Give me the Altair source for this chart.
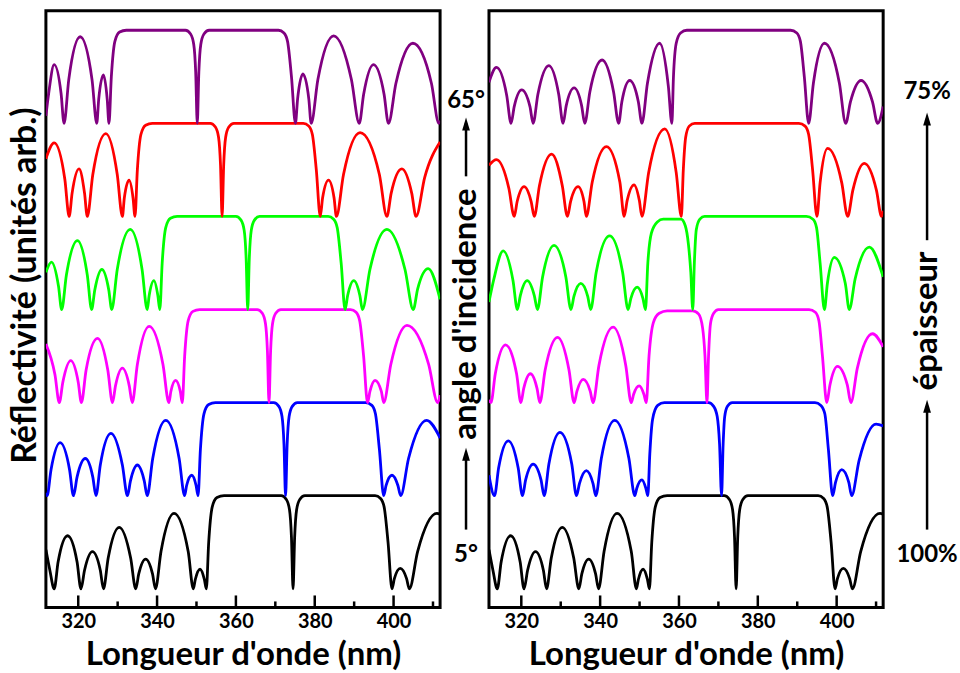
import altair as alt
import pandas as pd

# Axis ranges: wavelength (nm) and stacked reflectivity (each curve offset by 1)
X_DOMAIN = [311.8, 411.8]
Y_DOMAIN = [-0.2, 6.21]
MAJOR_TICKS = [320, 340, 360, 380, 400]
MINOR_TICKS = [330, 350, 370, 390, 410]

# Reflectivity spectra as (wavelength nm, R) pairs.
# Reference curve: 5 deg incidence, 100 % thickness (bottom curve of both panels)
ref_5deg_100 = [
    (311.8, 0.42), (312.8, 0.20), (313.9, 0), (314.9, 0.29), (317.3, 0.57), (319.7, 0.29),
    (320.7, 0), (321.6, 0.20), (323.6, 0.40), (325.6, 0.20), (326.4, 0), (327.6, 0.33),
    (330.4, 0.66), (333.3, 0.33), (334.6, 0), (335.35, 0.16), (337.1, 0.32), (338.85, 0.16),
    (339.6, 0), (341.0, 0.40), (344.3, 0.81), (347.9, 0.40), (349.2, 0), (349.7, 0.10),
    (350.9, 0.21), (352.0, 0.10), (352.5, 0), (353.1, 0.5), (354.0, 0.88), (355.2, 0.98),
    (357.0, 1.0), (371.5, 1.0), (372.8, 0.96), (373.6, 0.85), (374.1, 0.55), (374.5, 0),
    (374.9, 0.55), (375.4, 0.85), (376.2, 0.96), (377.5, 1.0), (395.3, 1.0), (396.7, 0.97),
    (397.6, 0.88), (398.6, 0.5), (399.6, 0), (400.2, 0.11), (401.7, 0.22), (403.3, 0.11),
    (404.0, 0), (406.1, 0.40), (411.0, 0.81), (411.8, 0.80),
]

# Increasing angle of incidence (left panel)
angle_2 = [
    (311.8, 0.03), (312.1, 0), (313.1, 0.28), (315.4, 0.57), (317.8, 0.28), (318.8, 0),
    (319.7, 0.20), (321.8, 0.40), (323.7, 0.20), (324.5, 0), (325.6, 0.33), (328.3, 0.67),
    (331.2, 0.33), (332.5, 0), (333.25, 0.16), (335.0, 0.33), (336.75, 0.16), (337.5, 0),
    (338.9, 0.40), (342.2, 0.81), (345.6, 0.40), (347.0, 0), (347.5, 0.11), (348.8, 0.22),
    (349.9, 0.11), (350.4, 0), (351.0, 0.5), (351.9, 0.88), (353.1, 0.98), (354.8, 1.0),
    (369.6, 1.0), (370.9, 0.96), (371.7, 0.85), (372.2, 0.55), (372.6, 0), (373.0, 0.55),
    (373.5, 0.85), (374.3, 0.96), (375.6, 1.0), (392.9, 1.0), (394.5, 0.97), (395.4, 0.88),
    (396.4, 0.5), (397.5, 0), (398.1, 0.11), (399.6, 0.22), (401.1, 0.11), (401.8, 0),
    (403.8, 0.40), (408.4, 0.81), (411.8, 0.62),
]
angle_3 = [
    (311.8, 0.63), (314.1, 0.30), (315.2, 0), (316.1, 0.22), (318.1, 0.45), (320.0, 0.22),
    (320.8, 0), (322.0, 0.35), (324.9, 0.69), (327.5, 0.35), (328.7, 0), (329.45, 0.18),
    (331.2, 0.37), (332.95, 0.18), (333.7, 0), (335.0, 0.41), (338.0, 0.82), (341.5, 0.41),
    (343.0, 0), (343.5, 0.12), (344.7, 0.24), (345.9, 0.12), (346.4, 0), (347.0, 0.5),
    (347.9, 0.88), (349.1, 0.98), (350.8, 1.0), (365.4, 1.0), (366.7, 0.96), (367.5, 0.85),
    (368.0, 0.55), (368.4, 0), (368.8, 0.55), (369.3, 0.85), (370.1, 0.96), (371.4, 1.0),
    (389.1, 1.0), (390.5, 0.97), (391.4, 0.88), (392.4, 0.5), (393.4, 0), (394.0, 0.12),
    (395.3, 0.24), (396.9, 0.12), (397.5, 0), (399.3, 0.41), (403.4, 0.83), (408.9, 0.41),
    (411.2, 0), (411.8, 0.08),
]
angle_4 = [
    (311.8, 0.40), (313.2, 0.51), (315.0, 0.25), (315.8, 0), (317.0, 0.37), (319.8, 0.74),
    (322.3, 0.37), (323.4, 0), (324.2, 0.21), (326.0, 0.43), (327.75, 0.21), (328.5, 0),
    (329.9, 0.43), (333.2, 0.86), (336.2, 0.43), (337.5, 0), (338.0, 0.15), (339.2, 0.31),
    (340.2, 0.15), (340.7, 0), (341.3, 0.5), (342.2, 0.88), (343.4, 0.98), (345.1, 1.0),
    (360.0, 1.0), (361.3, 0.96), (362.1, 0.85), (362.6, 0.55), (363.0, 0), (363.4, 0.55),
    (363.9, 0.85), (364.7, 0.96), (366.0, 1.0), (383.4, 1.0), (384.8, 0.97), (385.7, 0.88),
    (386.7, 0.5), (387.7, 0), (388.35, 0.15), (389.9, 0.31), (391.45, 0.15), (392.1, 0),
    (394.0, 0.43), (398.3, 0.86), (402.9, 0.43), (405.0, 0), (406.1, 0.22), (408.8, 0.44),
    (411.8, 0.11),
]
angle_5 = [
    (311.8, 0.62), (313.9, 0.79), (316.6, 0.40), (317.7, 0), (318.45, 0.25), (320.2, 0.51),
    (321.6, 0.25), (322.3, 0), (323.7, 0.45), (327.0, 0.89), (329.9, 0.45), (331.2, 0),
    (331.7, 0.20), (332.9, 0.39), (333.9, 0.20), (334.4, 0), (335.0, 0.5), (335.9, 0.88),
    (337.1, 0.98), (338.8, 1.0), (353.5, 1.0), (354.8, 0.96), (355.6, 0.85), (356.1, 0.55),
    (356.5, 0), (356.9, 0.55), (357.4, 0.85), (358.2, 0.96), (359.5, 1.0), (377.1, 1.0),
    (378.5, 0.97), (379.4, 0.88), (380.4, 0.5), (381.4, 0), (382.0, 0.20), (383.5, 0.39),
    (384.9, 0.20), (385.5, 0), (387.3, 0.45), (391.5, 0.90), (396.4, 0.45), (398.3, 0),
    (399.4, 0.25), (402.1, 0.51), (404.6, 0.25), (405.7, 0), (407.9, 0.42), (411.8, 0.80),
]
angle_65deg = [
    (311.8, 0.08), (312.5, 0.32), (313.9, 0.63), (315.65, 0.32), (316.4, 0), (317.6, 0.47),
    (320.5, 0.93), (323.5, 0.47), (324.7, 0), (325.2, 0.26), (326.4, 0.52), (327.35, 0.26),
    (327.8, 0), (328.4, 0.5), (329.3, 0.88), (330.5, 0.98), (332.2, 1.0), (347.2, 1.0),
    (348.5, 0.96), (349.3, 0.85), (349.8, 0.55), (350.2, 0), (350.6, 0.55), (351.1, 0.85),
    (351.9, 0.96), (353.2, 1.0), (370.8, 1.0), (372.2, 0.97), (373.1, 0.88), (374.1, 0.5),
    (375.1, 0), (375.65, 0.26), (377.0, 0.53), (378.5, 0.26), (379.1, 0), (380.8, 0.47),
    (384.8, 0.94), (389.3, 0.47), (391.3, 0), (392.4, 0.31), (394.9, 0.63), (397.6, 0.31),
    (398.7, 0), (400.6, 0.43), (404.9, 0.86), (409.6, 0.43), (411.5, 0), (411.8, 0.03),
]

# Decreasing defect-layer thickness (right panel)
thick_2 = [
    (311.8, 0.22), (313.2, 0), (314.25, 0.30), (316.7, 0.59), (319.2, 0.30), (320.3, 0),
    (321.1, 0.17), (323.0, 0.34), (325.0, 0.17), (325.8, 0), (327.0, 0.34), (329.8, 0.68),
    (332.8, 0.34), (334.0, 0), (334.75, 0.13), (336.5, 0.27), (338.2, 0.13), (338.9, 0),
    (340.3, 0.40), (343.7, 0.81), (347.3, 0.40), (348.8, 0), (349.3, 0.08), (350.6, 0.17),
    (351.6, 0.08), (352.1, 0), (352.6, 0.45), (353.3, 0.82), (354.6, 0.97), (356.3, 1.0),
    (367.5, 1.0), (368.8, 0.96), (369.7, 0.85), (370.3, 0.55), (370.8, 0), (371.2, 0.55),
    (371.6, 0.85), (372.3, 0.96), (373.5, 1.0), (394.5, 1.0), (396.0, 0.97), (397.0, 0.88),
    (397.9, 0.5), (399.0, 0), (399.7, 0.14), (401.3, 0.28), (403.1, 0.14), (403.8, 0),
    (405.7, 0.38), (410.0, 0.77), (411.8, 0.75),
]
thick_3 = [
    (311.8, 0.03), (312.3, 0), (313.4, 0.31), (316.0, 0.62), (318.8, 0.31), (319.9, 0),
    (320.6, 0.15), (322.3, 0.31), (324.0, 0.15), (324.7, 0), (326.05, 0.35), (329.2, 0.70),
    (332.1, 0.35), (333.4, 0), (334.1, 0.12), (335.7, 0.25), (337.5, 0.12), (338.2, 0),
    (339.7, 0.40), (343.3, 0.81), (346.5, 0.40), (347.9, 0), (348.5, 0.09), (349.9, 0.18),
    (351.1, 0.09), (351.7, 0), (352.4, 0.5), (353.5, 0.86), (355.0, 0.96), (357.0, 0.985),
    (363.5, 0.985), (365.0, 0.95), (366.0, 0.8), (366.6, 0.5), (367.1, 0), (367.5, 0.5),
    (368.0, 0.85), (368.8, 0.96), (370.0, 1.0), (393.0, 1.0), (394.6, 0.97), (395.5, 0.88),
    (396.4, 0.5), (397.5, 0), (398.3, 0.19), (400.2, 0.39), (402.7, 0.19), (403.6, 0),
    (405.25, 0.37), (409.1, 0.74), (411.8, 0.60),
]
thick_4 = [
    (311.8, 0.08), (313.0, 0.32), (315.4, 0.63), (317.9, 0.31), (319.0, 0), (319.75, 0.15),
    (321.5, 0.31), (323.3, 0.15), (324.1, 0), (325.4, 0.35), (328.3, 0.69), (331.3, 0.35),
    (332.6, 0), (333.35, 0.14), (335.1, 0.28), (336.85, 0.14), (337.6, 0), (339.0, 0.40),
    (342.4, 0.79), (345.7, 0.40), (347.1, 0), (347.8, 0.12), (349.4, 0.24), (350.85, 0.12),
    (351.5, 0), (352.1, 0.5), (353.0, 0.82), (354.5, 0.94), (356.0, 0.97), (360.5, 0.97),
    (361.6, 0.9), (362.4, 0.7), (363.0, 0.4), (363.5, 0), (363.9, 0.5), (364.4, 0.86),
    (365.3, 0.97), (366.5, 1.0), (392.3, 1.0), (394.0, 0.97), (394.9, 0.88), (395.8, 0.5),
    (396.9, 0), (397.65, 0.28), (399.4, 0.56), (402.2, 0.28), (403.2, 0), (404.7, 0.33),
    (408.3, 0.67), (411.8, 0.35),
]
thick_5 = [
    (311.8, 0.55), (313.7, 0.61), (316.85, 0.30), (318.2, 0), (318.95, 0.16), (320.7, 0.32),
    (322.5, 0.16), (323.3, 0), (324.6, 0.33), (327.7, 0.67), (330.4, 0.33), (331.7, 0),
    (332.5, 0.16), (334.4, 0.32), (335.9, 0.16), (336.5, 0), (338.0, 0.37), (341.6, 0.75),
    (345.0, 0.37), (346.1, 0), (346.85, 0.17), (348.6, 0.34), (349.95, 0.17), (350.6, 0),
    (352.3, 0.47), (356.4, 0.94), (359.3, 0.47), (360.6, 0), (361.1, 0.5), (361.7, 0.85),
    (362.6, 0.97), (364.0, 1.0), (390.4, 1.0), (392.0, 0.97), (392.9, 0.88), (393.9, 0.5),
    (395.0, 0), (395.8, 0.36), (397.7, 0.73), (401.3, 0.36), (402.8, 0), (404.1, 0.28),
    (407.0, 0.57), (410.1, 0.28), (411.4, 0), (411.8, 0.06),
]
thick_75pct = [
    (311.8, 0.44), (313.7, 0.60), (316.3, 0.30), (317.4, 0), (318.2, 0.18), (320.1, 0.36),
    (322.2, 0.18), (323.0, 0), (324.2, 0.31), (327.0, 0.62), (329.5, 0.31), (330.6, 0),
    (331.4, 0.19), (333.4, 0.38), (335.3, 0.19), (336.1, 0), (337.4, 0.34), (340.5, 0.68),
    (343.4, 0.34), (344.7, 0), (345.5, 0.23), (347.5, 0.46), (349.7, 0.23), (350.6, 0),
    (352.0, 0.43), (355.1, 0.86), (357.3, 0.40), (358.2, 0), (358.6, 0.5), (359.3, 0.86),
    (360.4, 0.97), (362.0, 1.0), (388.3, 1.0), (389.9, 0.97), (390.8, 0.88), (391.8, 0.5),
    (392.9, 0), (394.1, 0.43), (396.9, 0.86), (400.7, 0.43), (402.3, 0), (403.5, 0.23),
    (406.2, 0.46), (409.1, 0.23), (410.4, 0), (411.8, 0.18),
]

SERIES_NAMES = ["s0", "s1", "s2", "s3", "s4", "s5"]
SERIES_COLORS = ["#000000", "#0000FF", "#FF00FF", "#00FF00", "#FF0000", "#800080"]

left_curves = [ref_5deg_100, angle_2, angle_3, angle_4, angle_5, angle_65deg]
right_curves = [ref_5deg_100, thick_2, thick_3, thick_4, thick_5, thick_75pct]

FONT = "Lato"
W, H = 395, 598


def stack(curves):
    rows = []
    for offset, (name, pts) in enumerate(zip(SERIES_NAMES, curves)):
        for nm, r in pts:
            rows.append({"series": name, "nm": nm, "val": r + offset})
    return pd.DataFrame(rows)


one = pd.DataFrame({"k": [0]})


def label(text, px, py, size, angle=0):
    return alt.Chart(one).mark_text(
        text=text, font=FONT, fontWeight="bold", fontSize=size, color="black",
        align="center", baseline="middle", angle=angle,
    ).encode(x=alt.value(px), y=alt.value(py))


def arrow(px, tip, tail):
    shaft = alt.Chart(one).mark_rule(color="black", strokeWidth=2.5).encode(
        x=alt.value(px), y=alt.value(tip + 6), y2=alt.value(tail)
    )
    head = alt.Chart(one).mark_point(
        shape="M0,-1L0.6,1L-0.6,1Z", size=169, filled=True, color="black",
        opacity=1, strokeWidth=0,
    ).encode(x=alt.value(px), y=alt.value(tip + 6.5))
    return [shaft, head]


def panel(curves, show_y_title, annotations):
    df = stack(curves)
    y_axis = (
        alt.Axis(title="Réflectivité (unités arb.)", labels=False, ticks=False,
                 domain=False, grid=False, titlePadding=3, titleFontSize=34,
                 titleY=275)
        if show_y_title else None
    )
    lines = alt.Chart(df).mark_line(
        interpolate="monotone", strokeWidth=2.8, clip=True
    ).encode(
        x=alt.X("nm:Q", scale=alt.Scale(domain=X_DOMAIN, nice=False, zero=False),
                axis=alt.Axis(values=MAJOR_TICKS, title="Longueur d'onde (nm)",
                              ticks=False, domain=False, grid=False,
                              labelPadding=4, titlePadding=7,
                              labelFontSize=20, titleFontSize=33)),
        y=alt.Y("val:Q", scale=alt.Scale(domain=Y_DOMAIN, nice=False, zero=False),
                axis=y_axis),
        color=alt.Color("series:N", scale=alt.Scale(domain=SERIES_NAMES, range=SERIES_COLORS),
                        legend=None),
    )
    major = alt.Chart(pd.DataFrame({"nm": MAJOR_TICKS})).mark_rule(
        color="black", strokeWidth=2.5
    ).encode(x="nm:Q", y=alt.value(H), y2=alt.value(H - 12))
    minor = alt.Chart(pd.DataFrame({"nm": MINOR_TICKS})).mark_rule(
        color="black", strokeWidth=2.5
    ).encode(x="nm:Q", y=alt.value(H), y2=alt.value(H - 6))
    return alt.layer(lines, major, minor, *annotations).properties(width=W, height=H)


left_ann = [
    label("65°", 421, 90.5, 24),
    *arrow(421, 107, 166),
    label("angle d'incidence", 421, 304, 33, angle=270),
    *arrow(421, 438, 520),
    label("5°", 421, 545, 24),
]
right_ann = [
    label("75%", 439, 82, 24),
    *arrow(439, 102, 230),
    label("épaisseur", 439, 311, 33, angle=270),
    *arrow(439, 390, 520),
    label("100%", 439, 545, 24),
]

chart = alt.hconcat(
    panel(left_curves, True, left_ann),
    panel(right_curves, False, right_ann),
    spacing=49, bounds="flush",
).properties(
    padding={"left": 7, "top": 8, "right": 0, "bottom": 0},
    background="white",
).configure_axis(
    labelFont=FONT, titleFont=FONT, labelFontWeight="bold", titleFontWeight="bold",
    labelColor="black", titleColor="black",
).configure_view(stroke="black", strokeWidth=3)

chart.save("out.html", embed_options={"renderer": "svg", "actions": False})
